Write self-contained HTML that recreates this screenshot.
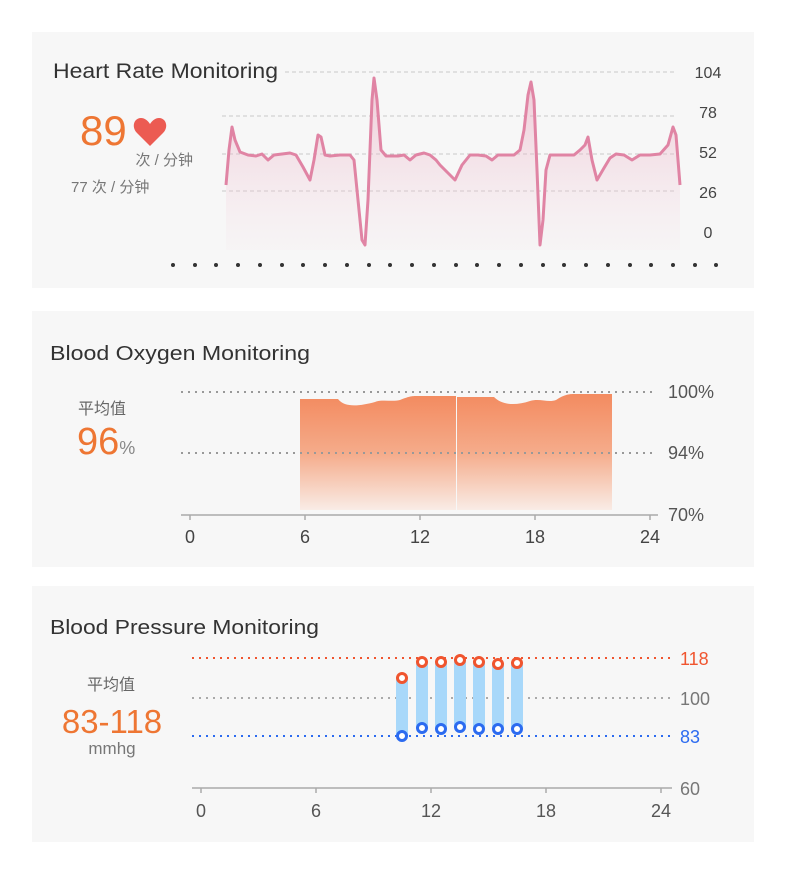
<!DOCTYPE html>
<html><head><meta charset="utf-8"><style>
body{margin:0;background:#fff;width:790px;height:885px;overflow:hidden;font-family:"Liberation Sans","Noto Sans CJK SC",sans-serif}
</style></head><body>
<svg width="790" height="885" xmlns="http://www.w3.org/2000/svg" font-family="Liberation Sans, Noto Sans CJK SC, sans-serif">
<defs>
<linearGradient id="pg" x1="0" y1="0" x2="0" y2="1"><stop offset="0" stop-color="#e9a3bb" stop-opacity=".55"/><stop offset="1" stop-color="#f3d9e2" stop-opacity=".1"/></linearGradient>
<linearGradient id="og" x1="0" y1="0" x2="0" y2="1"><stop offset="0" stop-color="#f38b60"/><stop offset=".5" stop-color="#f5ab8a"/><stop offset="1" stop-color="#f9ece6"/></linearGradient>
</defs>
<rect x="32" y="32" width="722" height="256" fill="#f7f7f7"/>
<rect x="32" y="311" width="722" height="256" fill="#f7f7f7"/>
<rect x="32" y="586" width="722" height="256" fill="#f7f7f7"/>

<!-- card 1 -->
<text x="53" y="78" font-size="21" fill="#333" textLength="225" lengthAdjust="spacingAndGlyphs">Heart Rate Monitoring</text>
<g stroke="#c8c8c8" stroke-dasharray="4,3" stroke-width="1">
<line x1="285" y1="72" x2="675" y2="72"/><line x1="222" y1="116" x2="675" y2="116"/><line x1="222" y1="154" x2="675" y2="154"/><line x1="222" y1="191" x2="675" y2="191"/>
</g>
<g font-size="16" fill="#444" text-anchor="middle">
<text x="708" y="78">104</text><text x="708" y="118">78</text><text x="708" y="158">52</text><text x="708" y="198">26</text><text x="708" y="238">0</text>
</g>
<path d="M226,185 L229,150 L232,127 L235,140 L240,152 L248,155 L256,156 L262,154 L268,160 L274,155 L282,154 L290,153 L296,155 L303,167 L310,180 L314,160 L318,135 L321,137 L325,155 L330,156 L340,155 L350,155 L354,160 L358,200 L362,240 L365,245 L368,200 L372,100 L374,78 L377,100 L381,150 L386,156 L398,156 L404,155 L410,160 L416,155 L424,153 L430,155 L436,160 L440,165 L447,172 L455,180 L462,165 L470,155 L478,155 L486,156 L492,160 L498,155 L506,155 L514,155 L520,150 L524,130 L528,95 L531,82 L534,100 L537,170 L540,245 L543,220 L546,170 L550,155 L560,155 L574,155 L580,150 L585,145 L588,137 L592,160 L597,180 L604,168 L610,158 L616,154 L624,155 L632,160 L640,155 L650,155 L660,154 L668,145 L673,127 L676,135 L680,185 L680,250 L226,250 Z" fill="url(#pg)" stroke="none"/>
<path d="M226,185 L229,150 L232,127 L235,140 L240,152 L248,155 L256,156 L262,154 L268,160 L274,155 L282,154 L290,153 L296,155 L303,167 L310,180 L314,160 L318,135 L321,137 L325,155 L330,156 L340,155 L350,155 L354,160 L358,200 L362,240 L365,245 L368,200 L372,100 L374,78 L377,100 L381,150 L386,156 L398,156 L404,155 L410,160 L416,155 L424,153 L430,155 L436,160 L440,165 L447,172 L455,180 L462,165 L470,155 L478,155 L486,156 L492,160 L498,155 L506,155 L514,155 L520,150 L524,130 L528,95 L531,82 L534,100 L537,170 L540,245 L543,220 L546,170 L550,155 L560,155 L574,155 L580,150 L585,145 L588,137 L592,160 L597,180 L604,168 L610,158 L616,154 L624,155 L632,160 L640,155 L650,155 L660,154 L668,145 L673,127 L676,135 L680,185" fill="none" stroke="#e084a4" stroke-width="3" stroke-linejoin="round"/>
<g fill="#333">
<circle cx="173" cy="265" r="2"/><circle cx="195" cy="265" r="2"/><circle cx="216" cy="265" r="2"/><circle cx="238" cy="265" r="2"/><circle cx="260" cy="265" r="2"/><circle cx="282" cy="265" r="2"/><circle cx="303" cy="265" r="2"/><circle cx="325" cy="265" r="2"/><circle cx="347" cy="265" r="2"/><circle cx="369" cy="265" r="2"/><circle cx="390" cy="265" r="2"/><circle cx="412" cy="265" r="2"/><circle cx="434" cy="265" r="2"/><circle cx="456" cy="265" r="2"/><circle cx="477" cy="265" r="2"/><circle cx="499" cy="265" r="2"/><circle cx="521" cy="265" r="2"/><circle cx="543" cy="265" r="2"/><circle cx="564" cy="265" r="2"/><circle cx="586" cy="265" r="2"/><circle cx="608" cy="265" r="2"/><circle cx="630" cy="265" r="2"/><circle cx="651" cy="265" r="2"/><circle cx="673" cy="265" r="2"/><circle cx="695" cy="265" r="2"/><circle cx="716" cy="265" r="2"/>
</g>
<text x="80" y="145" font-size="42" fill="#ee7633">89</text>
<path d="M150,146 L137,133 C131,127 134,118 141,118 C145,118 148,121 150,124 C152,121 155,118 159,118 C166,118 169,127 163,133 Z" fill="#ec5b52"/>
<text x="193" y="165" font-size="15" fill="#777" text-anchor="end">次 / 分钟</text>
<text x="71" y="192" font-size="15" fill="#777">77 次 / 分钟</text>

<!-- card 2 -->
<text x="50" y="360" font-size="20.5" fill="#333" textLength="260" lengthAdjust="spacingAndGlyphs">Blood Oxygen Monitoring</text>
<path d="M300,399 L338,399 C345,408 360,406 375,402 C382,399 392,402 400,400 C410,396 412,396 417,396 L456,396 L456,510 L300,510 Z" fill="url(#og)"/>
<path d="M457,397 L494,397 C502,405 515,406 530,401 C540,398 548,403 556,400 C565,394 570,394 575,394 L612,394 L612,510 L457,510 Z" fill="url(#og)"/>
<g stroke="#999" stroke-width="2" stroke-dasharray="2,5">
<line x1="181" y1="392" x2="656" y2="392"/><line x1="181" y1="453" x2="656" y2="453"/>
</g>
<line x1="181" y1="515" x2="658" y2="515" stroke="#aaa" stroke-width="1.5"/>
<g stroke="#aaa" stroke-width="1.5"><line x1="190" y1="515" x2="190" y2="520"/><line x1="305" y1="515" x2="305" y2="520"/><line x1="420" y1="515" x2="420" y2="520"/><line x1="535" y1="515" x2="535" y2="520"/><line x1="650" y1="515" x2="650" y2="520"/></g>
<g font-size="18" fill="#444" text-anchor="middle"><text x="190" y="543">0</text><text x="305" y="543">6</text><text x="420" y="543">12</text><text x="535" y="543">18</text><text x="650" y="543">24</text></g>
<g font-size="18" fill="#555"><text x="668" y="398">100%</text><text x="668" y="459">94%</text><text x="668" y="521">70%</text></g>
<text x="102" y="414" font-size="16" fill="#666" text-anchor="middle">平均值</text>
<text x="77" y="454" font-size="38" fill="#ee7633">96<tspan font-size="18" fill="#888">%</tspan></text>

<!-- card 3 -->
<text x="50" y="634" font-size="20.5" fill="#333" textLength="269" lengthAdjust="spacingAndGlyphs">Blood Pressure Monitoring</text>
<g stroke-width="2" stroke-dasharray="2,5">
<line x1="192" y1="658" x2="672" y2="658" stroke="#f0552f"/>
<line x1="192" y1="698" x2="672" y2="698" stroke="#aaa"/>
<line x1="192" y1="736" x2="672" y2="736" stroke="#2c6bf0"/>
</g>
<g fill="#a8d8fa">
<rect x="396" y="678" width="12" height="58"/><rect x="416" y="662" width="12" height="66"/><rect x="435" y="662" width="12" height="66"/><rect x="454" y="660" width="12" height="67"/><rect x="473" y="662" width="12" height="66"/><rect x="492" y="664" width="12" height="64"/><rect x="511" y="663" width="12" height="65"/>
</g>
<g fill="#fff" stroke="#f0552f" stroke-width="3">
<circle cx="402" cy="678" r="4.5"/><circle cx="422" cy="662" r="4.5"/><circle cx="441" cy="662" r="4.5"/><circle cx="460" cy="660" r="4.5"/><circle cx="479" cy="662" r="4.5"/><circle cx="498" cy="664" r="4.5"/><circle cx="517" cy="663" r="4.5"/>
</g>
<g fill="#fff" stroke="#2c6bf0" stroke-width="3">
<circle cx="402" cy="736" r="4.5"/><circle cx="422" cy="728" r="4.5"/><circle cx="441" cy="729" r="4.5"/><circle cx="460" cy="727" r="4.5"/><circle cx="479" cy="729" r="4.5"/><circle cx="498" cy="729" r="4.5"/><circle cx="517" cy="729" r="4.5"/>
</g>
<line x1="192" y1="788" x2="672" y2="788" stroke="#aaa" stroke-width="1.5"/>
<g stroke="#aaa" stroke-width="1.5"><line x1="201" y1="788" x2="201" y2="793"/><line x1="316" y1="788" x2="316" y2="793"/><line x1="431" y1="788" x2="431" y2="793"/><line x1="546" y1="788" x2="546" y2="793"/><line x1="661" y1="788" x2="661" y2="793"/></g>
<g font-size="18" fill="#555" text-anchor="middle"><text x="201" y="817">0</text><text x="316" y="817">6</text><text x="431" y="817">12</text><text x="546" y="817">18</text><text x="661" y="817">24</text></g>
<text x="680" y="665" font-size="18" fill="#f0552f">118</text>
<text x="680" y="705" font-size="18" fill="#777">100</text>
<text x="680" y="743" font-size="18" fill="#2c6bf0">83</text>
<text x="680" y="795" font-size="18" fill="#777">60</text>
<text x="111" y="690" font-size="16" fill="#666" text-anchor="middle">平均值</text>
<text x="112" y="733" font-size="33" fill="#ee7633" text-anchor="middle">83-118</text>
<text x="112" y="754" font-size="17" fill="#777" text-anchor="middle">mmhg</text>
</svg>
</body></html>
